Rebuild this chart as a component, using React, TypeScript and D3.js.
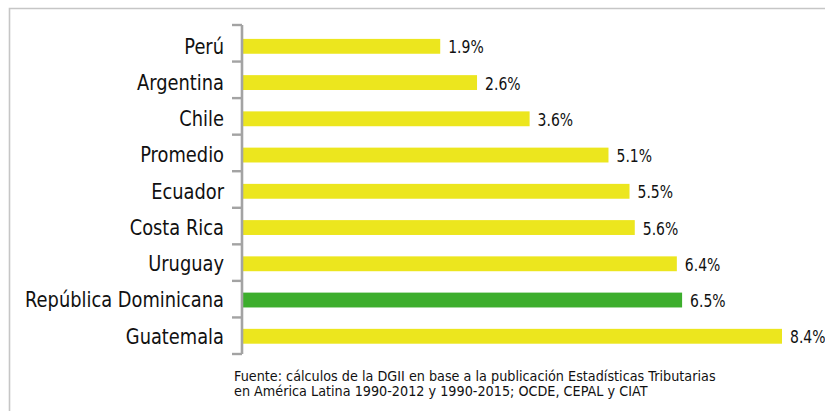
import React from "react";
import * as d3 from "d3";

const categories = [
  "Perú",
  "Argentina",
  "Chile",
  "Promedio",
  "Ecuador",
  "Costa Rica",
  "Uruguay",
  "República Dominicana",
  "Guatemala",
];
const values = [1.9, 2.6, 3.6, 5.1, 5.5, 5.6, 6.4, 6.5, 8.4];
const highlighted = ["República Dominicana"];
const sourceLines = [
  "Fuente: cálculos de la DGII en base a la publicación Estadísticas Tributarias",
  "en América Latina 1990-2012 y 1990-2015; OCDE, CEPAL y CIAT",
];

const W = 825;
const H = 411;
const YELLOW = "#ece61e";
const GREEN = "#3dae2d";
const FONT = "'DejaVu Sans', sans-serif";
const SX = 0.85;

export default function App() {
  const x = d3.scaleLinear().domain([-1.87, 8.4]).range([242, 782]);
  const yTicks = d3.scaleBand<string>().domain(categories).range([25, 354]).padding(0);
  const yBars = d3
    .scaleBand<string>()
    .domain(categories)
    .range([28.2, 354.4])
    .paddingInner(0.59)
    .paddingOuter(0.295);

  const axisX = 242;
  const tickLen = 10;
  const boundaries = categories.map((c) => yTicks(c) as number).concat([yTicks.range()[1]]);

  return (
    <svg
      width={W}
      height={H}
      style={{ position: "absolute", left: 0, top: 0, background: "#fff" }}
    >
      <rect x={0} y={0} width={W} height={H} fill="#fff" />
      {/* frame */}
      <path d={`M9.5,${H + 5} L9.5,8.5 L${W + 5},8.5`} fill="none" stroke="#c6c6c6" strokeWidth={1.6} />

      {/* bars */}
      {categories.map((c, i) => (
        <rect
          key={c}
          x={x(-1.87)}
          y={yBars(c) as number}
          width={x(values[i]) - x(-1.87)}
          height={yBars.bandwidth()}
          fill={highlighted.includes(c) ? GREEN : YELLOW}
        />
      ))}

      {/* axis */}
      <line x1={axisX} x2={axisX} y1={boundaries[0]} y2={boundaries[boundaries.length - 1]} stroke="#a3a3a3" strokeWidth={2.6} />
      {boundaries.map((b, i) => (
        <line key={i} x1={axisX - tickLen} x2={axisX} y1={b} y2={b} stroke="#a3a3a3" strokeWidth={2.4} />
      ))}

      {/* category labels */}
      {categories.map((c) => {
        const cy = (yBars(c) as number) + yBars.bandwidth() / 2;
        return (
          <text
            key={c}
            transform={`translate(224,${cy + 7.3}) scale(${SX},1)`}
            textAnchor="end"
            fontFamily={FONT}
            fontSize={21}
            fill="#111"
          >
            {c}
          </text>
        );
      })}

      {/* value labels */}
      {categories.map((c, i) => {
        const cy = (yBars(c) as number) + yBars.bandwidth() / 2;
        return (
          <text
            key={c}
            transform={`translate(${x(values[i]) + 8},${cy + 7}) scale(0.8,1)`}
            fontFamily={FONT}
            fontSize={17.5}
            fill="#111"
          >
            {values[i].toFixed(1) + "%"}
          </text>
        );
      })}

      {/* source */}
      {sourceLines.map((s, i) => (
        <text
          key={i}
          transform={`translate(234,${380.7 + i * 15.5}) scale(0.95,1)`}
          fontFamily={FONT}
          fontSize={13.5}
          fill="#111"
        >
          {s}
        </text>
      ))}
    </svg>
  );
}
